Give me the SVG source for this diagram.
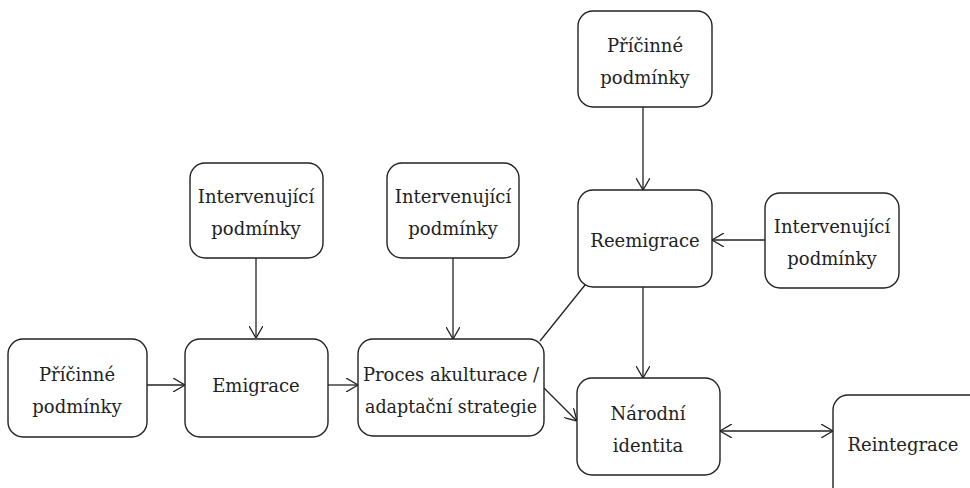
<svg xmlns="http://www.w3.org/2000/svg" width="970" height="488" viewBox="0 0 970 488">
<defs>
<marker id="ah" viewBox="0 0 12 14" refX="12" refY="7" markerWidth="12" markerHeight="14" markerUnits="userSpaceOnUse" orient="auto-start-reverse">
<path d="M0,0 L12,7 L0,14" fill="none" stroke="#222" stroke-width="1.3"/>
</marker>
<style>
.box{fill:#fff;stroke:#222;stroke-width:1.4}
.t{font-family:"DejaVu Serif","Liberation Serif",serif;font-size:18px;fill:#222;text-anchor:middle}
.c{stroke:#222;stroke-width:1.3;fill:none}
</style>
</defs>
<rect width="970" height="488" fill="#fff"/>
<g id="connectors">
<line class="c" x1="147" y1="385" x2="185" y2="385" marker-end="url(#ah)"/>
<line class="c" x1="328" y1="385" x2="358" y2="385" marker-end="url(#ah)"/>
<line class="c" x1="256" y1="258" x2="256" y2="338" marker-end="url(#ah)"/>
<line class="c" x1="453" y1="258" x2="453" y2="339" marker-end="url(#ah)"/>
<line class="c" x1="643" y1="107" x2="643" y2="190" marker-end="url(#ah)"/>
<line class="c" x1="765" y1="240" x2="712" y2="240" marker-end="url(#ah)"/>
<line class="c" x1="643" y1="287" x2="643" y2="378" marker-end="url(#ah)"/>
<line class="c" x1="540" y1="341" x2="585" y2="285"/>
<line class="c" x1="544" y1="388" x2="577" y2="421" marker-end="url(#ah)"/>
<line class="c" x1="720" y1="431" x2="833" y2="431" marker-start="url(#ah)" marker-end="url(#ah)"/>
</g>
<g id="n_pricinne_left"><rect class="box" x="8" y="339" width="139" height="98" rx="15"/><text class="t" x="77" y="381">Příčinné</text><text class="t" x="77" y="413">podmínky</text></g>
<g id="n_emigrace"><rect class="box" x="185" y="339" width="143" height="98" rx="15"/><text class="t" x="256" y="392">Emigrace</text></g>
<g id="n_proces"><rect class="box" x="358" y="339" width="186" height="97" rx="15"/><text class="t" x="451" y="381" textLength="176" lengthAdjust="spacingAndGlyphs">Proces akulturace /</text><text class="t" x="451" y="413" textLength="172" lengthAdjust="spacingAndGlyphs">adaptační strategie</text></g>
<g id="n_narodni"><rect class="box" x="577" y="378" width="143" height="97" rx="15"/><text class="t" x="648" y="420">Národní</text><text class="t" x="648" y="452">identita</text></g>
<g id="n_reintegrace"><rect class="box" x="833" y="395" width="160" height="110" rx="15"/><text class="t" x="903" y="451">Reintegrace</text></g>
<g id="n_interv1"><rect class="box" x="190" y="163" width="133" height="95" rx="15"/><text class="t" x="256" y="203">Intervenující</text><text class="t" x="256" y="235">podmínky</text></g>
<g id="n_interv2"><rect class="box" x="387" y="163" width="132" height="95" rx="15"/><text class="t" x="453" y="203">Intervenující</text><text class="t" x="453" y="235">podmínky</text></g>
<g id="n_pricinne_top"><rect class="box" x="578" y="11" width="134" height="96" rx="15"/><text class="t" x="645" y="52">Příčinné</text><text class="t" x="645" y="84">podmínky</text></g>
<g id="n_reemigrace"><rect class="box" x="578" y="190" width="134" height="97" rx="15"/><text class="t" x="645" y="247">Reemigrace</text></g>
<g id="n_interv3"><rect class="box" x="765" y="193" width="134" height="95" rx="15"/><text class="t" x="832" y="233">Intervenující</text><text class="t" x="832" y="265">podmínky</text></g>
</svg>
